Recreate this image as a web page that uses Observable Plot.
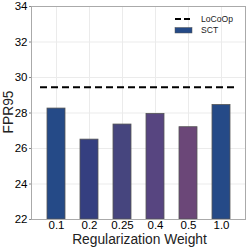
<!DOCTYPE html>
<html><head><meta charset="utf-8">
<script src="https://cdn.jsdelivr.net/npm/d3@7"></script>
<script src="https://cdn.jsdelivr.net/npm/@observablehq/plot@0.6"></script>
<style>body{margin:0;background:#fff;} svg{display:block;}</style>
</head><body><div id="c"></div>
<script>
const weights = ["0.1","0.2","0.25","0.4","0.5","1.0"];
const sctValues = [28.25, 26.5, 27.35, 27.95, 27.2, 28.45];
const barColors = ["#254a87","#353f80","#46457e","#574580","#6b4778","#254a87"];
const locoopValue = 29.45;
const yTicks = [22,24,26,28,30,32,34];

const data = weights.map((w,i)=>({w, v: sctValues[i], c: barColors[i]}));
const font = "Liberation Sans, Arial, sans-serif";

const chart = Plot.plot({
  width: 249, height: 249,
  marginLeft: 31, marginRight: 4, marginTop: 6, marginBottom: 30,
  style: {fontFamily: font, background: "#fff"},
  x: {domain: weights, padding: 0.46, label: null},
  y: {domain: [22,34], ticks: yTicks, label: null},
  marks: [
    Plot.gridY(yTicks, {stroke: "#ebebeb", strokeOpacity: 1}),
    Plot.gridX(weights, {stroke: "#ebebeb", strokeOpacity: 1}),
    Plot.barY(data, {x: "w", y1: 22, y2: "v", fill: "c", stroke: "#555", strokeWidth: 0.8}),
    Plot.ruleY([locoopValue], {stroke: "#000", strokeWidth: 2, strokeDasharray: "7,4", insetLeft: 9, insetRight: 9}),
    Plot.frame({stroke: "#aaa"}),
    Plot.axisY({ticks: yTicks, tickSize: 2, tickPadding: 2, fontSize: 11.5, fill: "#000", stroke: "#888", label: null}),
    Plot.axisX({tickSize: 0, tickPadding: 1, fontSize: 11.5, fill: "#000", label: null})
  ]
});
document.getElementById("c").appendChild(chart);

const svg = d3.select(chart);
// axis titles
svg.append("text").attr("x", 139.5).attr("y", 243.5).attr("text-anchor","middle")
  .attr("font-family", font).attr("font-size", 13.8).attr("fill","#222").text("Regularization Weight");
svg.append("text").attr("transform","translate(12.5,112) rotate(-90)").attr("text-anchor","middle")
  .attr("font-family", font).attr("font-size", 13.8).attr("fill","#222").text("FPR95");
// legend
const lg = svg.append("g").attr("font-family", font).attr("font-size", 8.6).attr("text-anchor","start");
lg.append("line").attr("x1",175).attr("x2",192).attr("y1",19).attr("y2",19)
  .attr("stroke","#000").attr("stroke-width",2).attr("stroke-dasharray","6,3");
lg.append("text").attr("x",201).attr("y",22).attr("text-anchor","start").attr("fill","#222").text("LoCoOp");
lg.append("rect").attr("x",175).attr("y",27.5).attr("width",17).attr("height",5.5)
  .attr("fill","#254a87").attr("stroke","#555").attr("stroke-width",0.5);
lg.append("text").attr("x",201).attr("y",33.2).attr("text-anchor","start").attr("fill","#222").text("SCT");
</script></body></html>
